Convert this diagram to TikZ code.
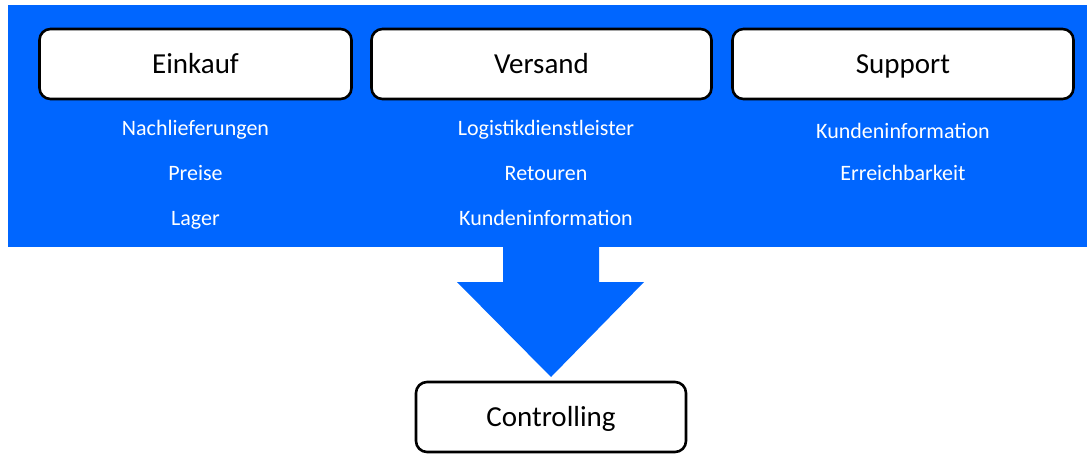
\documentclass[tikz,border=0pt]{standalone}
\usepackage{fontspec}
\setmainfont{Carlito}
\definecolor{bandblue}{HTML}{0066FF}
\begin{document}
\begin{tikzpicture}[x=1pt,y=-1pt,
  titlebox/.style={draw=black,fill=white,line width=2.6pt,rounded corners=11pt,
    minimum width=312pt,minimum height=70pt,inner sep=0pt,
    text height=26pt,text depth=7.2pt,font=\fontsize{29}{34}\selectfont},
  item/.style={text=white,inner sep=0pt,text height=19.8pt,text depth=5.5pt,
    font=\fontsize{22}{26}\selectfont}]
\useasboundingbox (0,0) rectangle (1087,455);
% blue band with the downward arrow
\fill[bandblue] (8,5) rectangle (1087,247);
\fill[bandblue] (503,246) -- (599,246) -- (599,282) -- (644,282) -- (551,377)
  -- (457,282) -- (503,282) -- cycle;
% department boxes
\node[titlebox] (einkauf) at (195.5,64) {Einkauf};
\node[titlebox,minimum width=340pt] (versand) at (541.5,64) {Versand};
\node[titlebox,minimum width=341pt] (support) at (903,64) {Support};
% items per department
\node[item] (e1) at (195.5,128) {Nachlieferungen};
\node[item] (e2) at (195.5,173) {Preise};
\node[item] (e3) at (195.5,218) {Lager};
\node[item] (v1) at (546,128) {Logistikdienstleister};
\node[item] (v2) at (546,173) {Retouren};
\node[item] (v3) at (546,218) {Kundeninformation};
\node[item] (s1) at (903,131) {Kundeninformation};
\node[item] (s2) at (903,173) {Erreichbarkeit};
% target box
\node[titlebox,minimum width=270pt] (controlling) at (551,417) {Controlling};
\end{tikzpicture}
\end{document}
